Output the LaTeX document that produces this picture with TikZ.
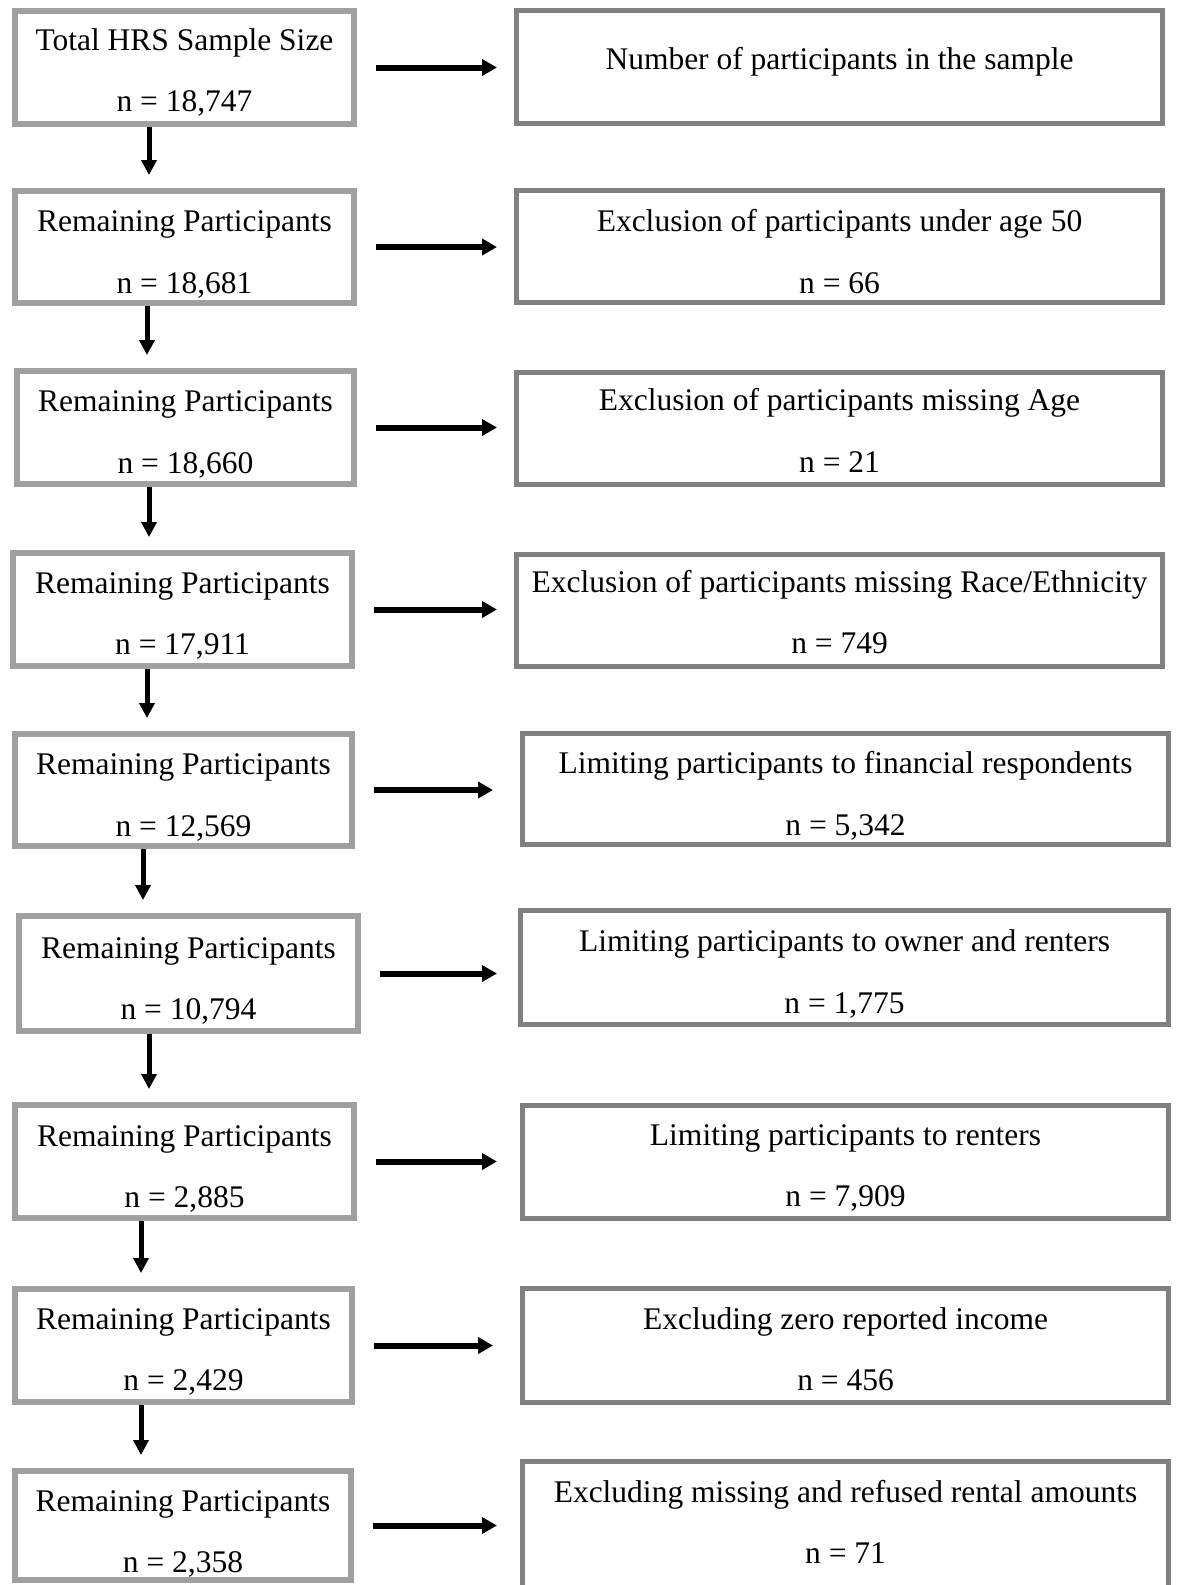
\documentclass[tikz,border=0pt]{standalone}
\usepackage{fontspec}
\setmainfont{Liberation Serif}
\usetikzlibrary{arrows.meta}
\definecolor{lgray}{RGB}{160,160,160}
\definecolor{dgray}{RGB}{128,128,128}
\tikzset{
  lbox/.style={draw=lgray, line width=6pt, fill=white, inner sep=0pt, rectangle},
  rbox/.style={draw=dgray, line width=5pt, fill=white, inner sep=0pt, rectangle},
  txt/.style={anchor=base, inner sep=0pt, font=\fontsize{31.5}{38}\selectfont},
  harrow/.style={line width=6pt, -{Triangle[length=15pt,width=16pt]}},
  varrow/.style={line width=5pt, -{Triangle[length=15pt,width=15pt]}, shorten >=13pt},
}
\newcommand\mkbox[7]{\node[#2, minimum width={(#5-#3-#7)*1pt}, minimum height={(#6-#4-#7)*1pt}] (#1) at ({(#3+#5)/2},{(#4+#6)/2}) {};}
\newcommand\myharr[3]{\draw[harrow, shorten <=19pt, shorten >=#3pt] (#1.east) -- (#1.east -| #2.west);}
\newcommand\myvarr[3]{\draw[varrow] (#1.south -| #3,0) -- (#2.north -| #3,0);}
\begin{document}
\begin{tikzpicture}[x=1pt,y=-1pt]
\useasboundingbox (0,0) rectangle (1181,1585);
\clip (0,0) rectangle (1181,1585);
% boxes
\mkbox{L1}{lbox}{12}{8}{357}{127}{6}
\mkbox{R1}{rbox}{514}{8}{1165}{126}{5}
\mkbox{L2}{lbox}{12}{188}{357}{306}{6}
\mkbox{R2}{rbox}{514}{188}{1165}{305}{5}
\mkbox{L3}{lbox}{14}{368}{357}{487}{6}
\mkbox{R3}{rbox}{514}{370}{1165}{487}{5}
\mkbox{L4}{lbox}{10}{550}{355}{669}{6}
\mkbox{R4}{rbox}{514}{552}{1165}{669}{5}
\mkbox{L5}{lbox}{12}{731}{355}{849}{6}
\mkbox{R5}{rbox}{520}{731}{1171}{847}{5}
\mkbox{L6}{lbox}{16}{913}{361}{1034}{6}
\mkbox{R6}{rbox}{518}{908}{1171}{1027}{5}
\mkbox{L7}{lbox}{12}{1102}{357}{1221}{6}
\mkbox{R7}{rbox}{520}{1103}{1171}{1221}{5}
\mkbox{L8}{lbox}{12}{1286}{355}{1405}{6}
\mkbox{R8}{rbox}{520}{1286}{1171}{1405}{5}
\mkbox{L9}{lbox}{12}{1468}{354}{1583}{6}
\mkbox{R9}{rbox}{520}{1459}{1171}{1610}{5}
% texts
\node[txt] (t1a) at (L1.center |- 0,50) {Total HRS Sample Size};
\node[txt] (t1b) at (L1.center |- 0,111) {n = 18,747};
\node[txt] (u1a) at (R1.center |- 0,69) {Number of participants in the sample};
\node[txt] (t2a) at (L2.center |- 0,231) {Remaining Participants};
\node[txt] (t2b) at (L2.center |- 0,293) {n = 18,681};
\node[txt] (u2a) at (R2.center |- 0,231) {Exclusion of participants under age 50};
\node[txt] (u2b) at (R2.center |- 0,293) {n = 66};
\node[txt] (t3a) at (L3.center |- 0,411) {Remaining Participants};
\node[txt] (t3b) at (L3.center |- 0,473) {n = 18,660};
\node[txt] (u3a) at (R3.center |- 0,410) {Exclusion of participants missing Age};
\node[txt] (u3b) at (R3.center |- 0,472) {n = 21};
\node[txt] (t4a) at (L4.center |- 0,593) {Remaining Participants};
\node[txt] (t4b) at (L4.center |- 0,654) {n = 17,911};
\node[txt] (u4a) at (R4.center |- 0,592) {Exclusion of participants missing Race/Ethnicity};
\node[txt] (u4b) at (R4.center |- 0,653) {n = 749};
\node[txt] (t5a) at (L5.center |- 0,774) {Remaining Participants};
\node[txt] (t5b) at (L5.center |- 0,836) {n = 12,569};
\node[txt] (u5a) at (R5.center |- 0,773) {Limiting participants to financial respondents};
\node[txt] (u5b) at (R5.center |- 0,835) {n = 5,342};
\node[txt] (t6a) at (L6.center |- 0,958) {Remaining Participants};
\node[txt] (t6b) at (L6.center |- 0,1019) {n = 10,794};
\node[txt] (u6a) at (R6.center |- 0,951) {Limiting participants to owner and renters};
\node[txt] (u6b) at (R6.center |- 0,1013) {n = 1,775};
\node[txt] (t7a) at (L7.center |- 0,1146) {Remaining Participants};
\node[txt] (t7b) at (L7.center |- 0,1207) {n = 2,885};
\node[txt] (u7a) at (R7.center |- 0,1145) {Limiting participants to renters};
\node[txt] (u7b) at (R7.center |- 0,1206) {n = 7,909};
\node[txt] (t8a) at (L8.center |- 0,1329) {Remaining Participants};
\node[txt] (t8b) at (L8.center |- 0,1390) {n = 2,429};
\node[txt] (u8a) at (R8.center |- 0,1329) {Excluding zero reported income};
\node[txt] (u8b) at (R8.center |- 0,1390) {n = 456};
\node[txt] (t9a) at (L9.center |- 0,1511) {Remaining Participants};
\node[txt] (t9b) at (L9.center |- 0,1572) {n = 2,358};
\node[txt] (u9a) at (R9.center |- 0,1502) {Excluding missing and refused rental amounts};
\node[txt] (u9b) at (R9.center |- 0,1563) {n = 71};
% horizontal arrows
\myharr{L1}{R1}{17}
\myharr{L2}{R2}{17}
\myharr{L3}{R3}{17}
\myharr{L4}{R4}{17}
\myharr{L5}{R5}{27}
\myharr{L6}{R6}{21}
\myharr{L7}{R7}{23}
\myharr{L8}{R8}{27}
\myharr{L9}{R9}{23}
% vertical arrows
\myvarr{L1}{L2}{149}
\myvarr{L2}{L3}{147}
\myvarr{L3}{L4}{149}
\myvarr{L4}{L5}{147}
\myvarr{L5}{L6}{143}
\myvarr{L6}{L7}{149}
\myvarr{L7}{L8}{141}
\myvarr{L8}{L9}{141}
\end{tikzpicture}
\end{document}
